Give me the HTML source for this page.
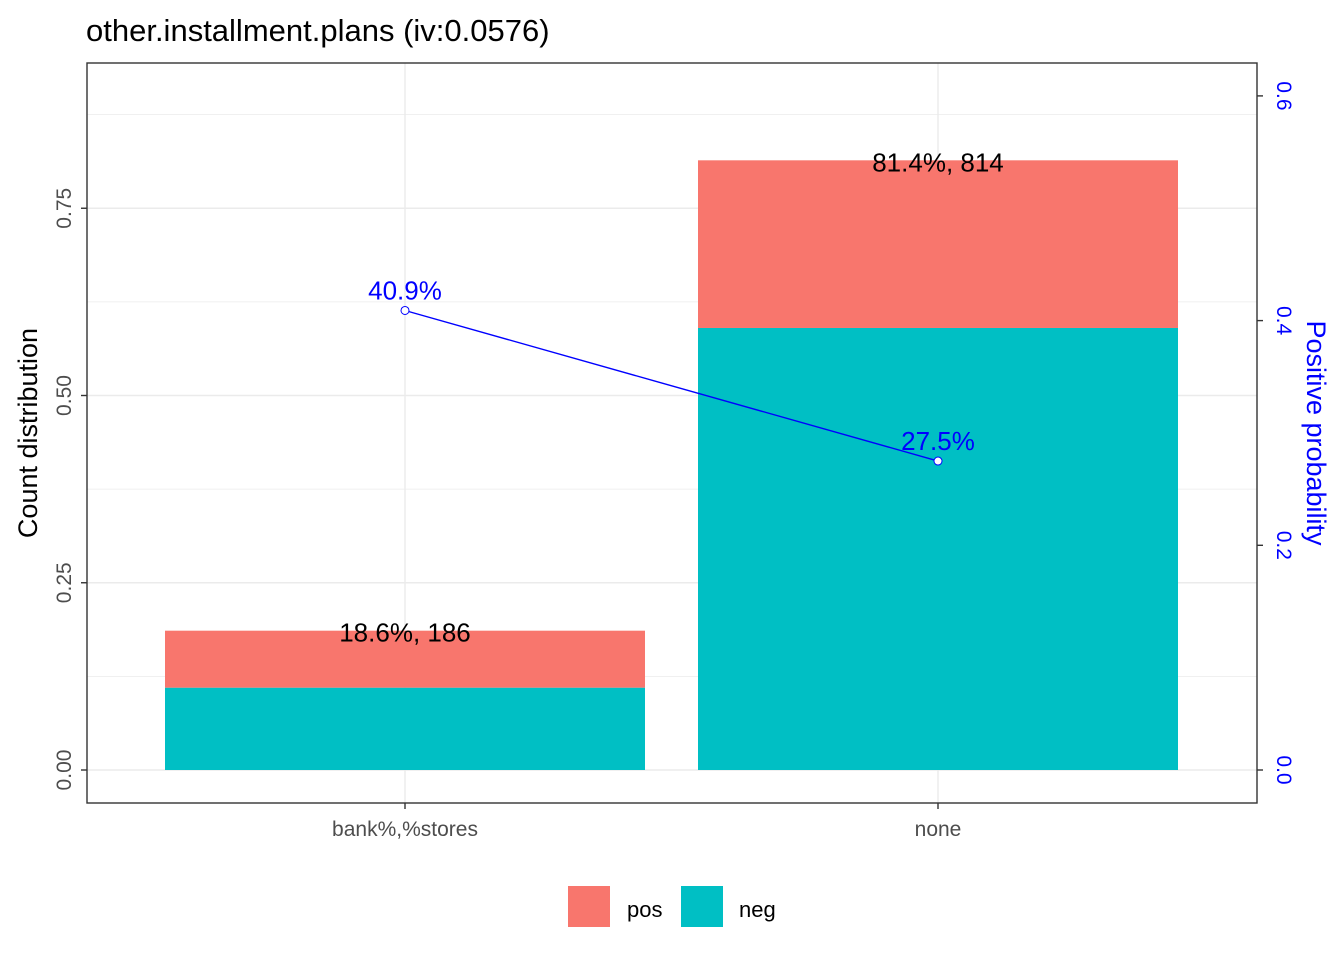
<!DOCTYPE html>
<html><head><meta charset="utf-8"><style>body{margin:0;background:#fff}svg{display:block;font-family:"Liberation Sans",Arial,sans-serif}</style></head>
<body>
<svg id="chart" width="1344" height="960" viewBox="0 0 1344 960" xmlns="http://www.w3.org/2000/svg">
<text x="86" y="41" font-size="31" fill="#000">other.installment.plans  (iv:0.0576)</text>
<rect x="87" y="63" width="1170" height="740" fill="#fff"/>
<g id="grid"></g><g id="bars"></g><g id="line"></g>
<rect x="87" y="63" width="1170" height="740" fill="none" stroke="#333" stroke-width="1.4"/>
<g id="axes"></g>
<text transform="translate(37,433) rotate(-90)" text-anchor="middle" font-size="27" fill="#000">Count distribution</text>
<text transform="translate(1307,433) rotate(90)" text-anchor="middle" font-size="27" fill="#0000ff">Positive probability</text>
<g>
<rect x="568" y="886" width="42" height="41" fill="#F8766D"/>
<text x="627" y="917" font-size="22">pos</text>
<rect x="681" y="886" width="42" height="41" fill="#00BFC4"/>
<text x="739" y="917" font-size="22">neg</text>
</g>
</svg>
<script>
const categories=["bank%,%stores","none"];
const distr=[0.186,0.814];
const counts=[186,814];
const posprob=[0.409,0.275];
const yTicks=[0,0.25,0.5,0.75];
const yTickLabels=["0.00","0.25","0.50","0.75"];
const y2Ticks=[0,0.2,0.4,0.6];
const y2TickLabels=["0.0","0.2","0.4","0.6"];
const NS="http://www.w3.org/2000/svg";
const y=v=>770-v*749;
const y2=p=>y(p*1.5);
const xc=i=>405+i*533;
const bw=480;
function mk(tag,attrs,parent,text){const e=document.createElementNS(NS,tag);for(const k in attrs)e.setAttribute(k,attrs[k]);if(text!==undefined)e.textContent=text;document.getElementById(parent).appendChild(e);return e;}
// grid
for(let v=-0.125;v<=0.95;v+=0.125){if(v<-0.044)continue;const g=mk('line',{x1:87,x2:1257,y1:y(v),y2:y(v),stroke:'#ebebeb','stroke-width':Math.abs((v/0.25)%1)<1e-6?1.4:0.7},'grid');}
categories.forEach((c,i)=>{const g=mk('line',{x1:xc(i),x2:xc(i),y1:63,y2:803,stroke:'#ebebeb','stroke-width':1.4},'grid');});
// bars
categories.forEach((c,i)=>{
 const neg=distr[i]*(1-posprob[i]);
 const r1=mk('rect',{x:xc(i)-bw/2,y:y(neg),width:bw,height:y(0)-y(neg),fill:'#00BFC4'},'bars');
 
 const r2=mk('rect',{x:xc(i)-bw/2,y:y(distr[i]),width:bw,height:y(neg)-y(distr[i]),fill:'#F8766D'},'bars');
 
 const t=mk('text',{x:xc(i),y:y(distr[i])+11,'text-anchor':'middle','font-size':26},'bars',(distr[i]*100).toFixed(1)+'%, '+counts[i]);
 
});
// line
const pl=mk('polyline',{points:posprob.map((p,i)=>xc(i)+','+y2(p)).join(' '),fill:'none',stroke:'#0000ff','stroke-width':1.4},'line');

posprob.forEach((p,i)=>{
 const c=mk('circle',{cx:xc(i),cy:y2(p),r:4,fill:'#fff',stroke:'#0000ff','stroke-width':1},'line');
 
 const t=mk('text',{x:xc(i),y:y2(p)-11,'text-anchor':'middle','font-size':26,fill:'#0000ff'},'line',(p*100).toFixed(1)+'%');
 
});
// axes
yTicks.forEach((v,i)=>{
 const l=mk('line',{x1:81,x2:87,y1:y(v),y2:y(v),stroke:'#333','stroke-width':1.4},'axes');
 const t=mk('text',{transform:`translate(71,${y(v)}) rotate(-90)`,'text-anchor':'middle','font-size':21,fill:'#4d4d4d'},'axes',yTickLabels[i]);
});
y2Ticks.forEach((v,i)=>{
 const l=mk('line',{x1:1257,x2:1263,y1:y2(v),y2:y2(v),stroke:'#333','stroke-width':1.4},'axes');
 const t=mk('text',{transform:`translate(1277,${y2(v)}) rotate(90)`,'text-anchor':'middle','font-size':21,fill:'#0000ff'},'axes',y2TickLabels[i]);
});
categories.forEach((c,i)=>{
 const l=mk('line',{x1:xc(i),x2:xc(i),y1:803,y2:809,stroke:'#333','stroke-width':1.4},'axes');
 const t=mk('text',{x:xc(i),y:836,'text-anchor':'middle','font-size':21,fill:'#4d4d4d'},'axes',c);
});
</script>
</body></html>
